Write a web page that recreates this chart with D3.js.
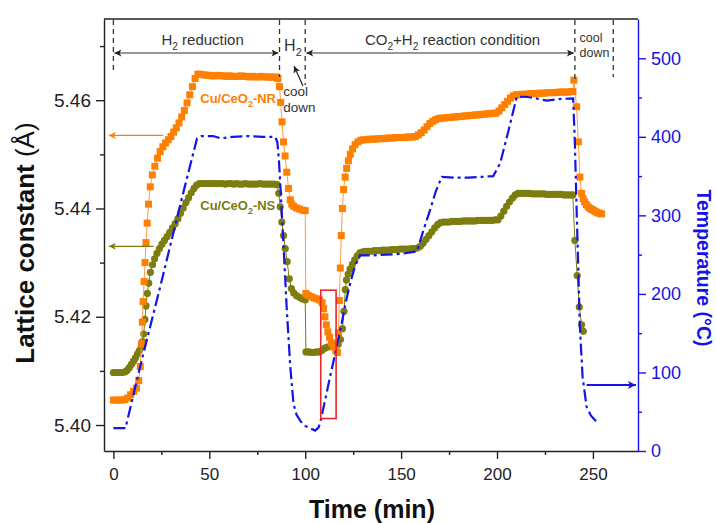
<!DOCTYPE html>
<html><head><meta charset="utf-8">
<script src="https://cdn.jsdelivr.net/npm/d3@7"></script>
<style>body{margin:0;background:#fff}svg{display:block}</style>
</head><body>
<svg id="chart" width="716" height="523"></svg>
<script>
// ---------- data ----------
const timeTicks = [0, 50, 100, 150, 200, 250];
const timeMinorTicks = [25, 75, 125, 175, 225];
const latticeTicks = [5.40, 5.42, 5.44, 5.46];
const latticeMinorTicks = [5.41, 5.43, 5.45, 5.47];
const tempTicks = [0, 100, 200, 300, 400, 500];
const tempMinorTicks = [50, 150, 250, 350, 450];

// Cu/CeO2-NR : [time (min), lattice constant (Å)]
const nrData = [
[0,5.4046],[1.5,5.4046],[3,5.4046],[4.5,5.4046],[6,5.4047],[7.5,5.4050],[9,5.4056],[10.5,5.4062],[12,5.4068],[13.2,5.4082],
[14,5.4108],[14.6,5.4150],[15.1,5.4190],[15.5,5.4228],[16,5.4265],[16.5,5.4300],[17,5.4337],[17.6,5.4373],[18.3,5.4408],[19.2,5.4440],
[20.3,5.4462],[21.6,5.4478],[23,5.4493],[24.4,5.4505],[25.8,5.4514],[27.2,5.4521],[28.6,5.4527],[30,5.4533],[31.4,5.4541],[32.8,5.4549],
[34.2,5.4558],[35.6,5.4569],[37,5.4581],[38.4,5.4595],[39.8,5.4610],[41.2,5.4625],[42.6,5.4640],[44,5.4648],[45.5,5.4648],[47,5.4647],
[48.5,5.4646],[50,5.4646],[51.5,5.4645],[53,5.4645],[54.5,5.4646],[56,5.4645],[57.5,5.4645],[59,5.4644],[60.5,5.4645],[62,5.4644],
[63.5,5.4644],[65,5.4644],[66.5,5.4645],[68,5.4644],[69.5,5.4644],[71,5.4643],[72.5,5.4644],[74,5.4643],[75.5,5.4643],[77,5.4644],
[78.5,5.4643],[80,5.4643],[81.5,5.4643],[83,5.4642],[84.5,5.4643],[85.8,5.4640],
[86.6,5.4625],[87.2,5.4596],[87.9,5.4560],[88.7,5.4523],[89.5,5.4497],[90.4,5.4467],[91.3,5.4437],[92.2,5.4416],[93,5.4408],[94,5.4404],
[95.5,5.4401],[97,5.4399],[98.5,5.4397],[100,5.4396],
[100.3,5.4243],[101.5,5.4240],[103,5.4237],[104.5,5.4235],[106,5.4233],[107.5,5.4231],[108.8,5.4226],[109.6,5.4215],[110.3,5.4200],[111,5.4185],
[111.8,5.4172],[112.7,5.4162],[113.7,5.4152],[114.8,5.4144],[116,5.4137],[116.8,5.4134],
[117.3,5.4170],[117.8,5.4230],[118.3,5.4290],[118.8,5.4350],[119.4,5.4400],[120,5.4435],[120.8,5.4458],[121.6,5.4474],[122.5,5.4488],[123.5,5.4500],
[124.7,5.4510],[126,5.4518],[127.5,5.4523],[129,5.4526],[130.5,5.4527],[132,5.4527],[133.5,5.4528],[135,5.4528],[136.5,5.4528],[138,5.4529],
[139.5,5.4529],[141,5.4529],[142.5,5.4530],[144,5.4530],[145.5,5.4530],[147,5.4531],[148.5,5.4531],[150,5.4531],[151.5,5.4531],[153,5.4532],
[154.5,5.4532],[156,5.4532],[157.5,5.4533],[159,5.4536],[160.5,5.4540],[162,5.4545],[163.5,5.4551],[165,5.4557],[166.5,5.4561],[168,5.4564],
[169.5,5.4566],[171,5.4567],[172.5,5.4567],[174,5.4568],[175.5,5.4568],[177,5.4569],[178.5,5.4569],[180,5.4570],[181.5,5.4570],[183,5.4571],
[184.5,5.4571],[186,5.4572],[187.5,5.4572],[189,5.4573],[190.5,5.4573],[192,5.4574],[193.5,5.4574],[195,5.4575],[196.5,5.4575],[198,5.4576],
[199.5,5.4576],[201,5.4580],[202.5,5.4586],[204,5.4592],[205.5,5.4598],[207,5.4604],[208.5,5.4608],[210,5.4610],[211.5,5.4610],[213,5.4611],
[214.5,5.4611],[216,5.4611],[217.5,5.4612],[219,5.4612],[220.5,5.4612],[222,5.4613],[223.5,5.4613],[225,5.4613],[226.5,5.4614],[228,5.4614],
[229.5,5.4614],[231,5.4614],[232.5,5.4615],[234,5.4615],[235.5,5.4615],[237,5.4615],[238.5,5.4616],[239.6,5.4616],
[240.1,5.4637],[241.5,5.4588],[242.4,5.4523],[243.2,5.4458],[244.1,5.4428],[244.9,5.4418],[245.7,5.4412],[246.6,5.4407],[247.5,5.4403],[248.5,5.4400],
[249.5,5.4398],[250.5,5.4396],[251.5,5.4394],[252.5,5.4392],[253.5,5.4391],[254.5,5.4390]
];

// Cu/CeO2-NS : [time (min), lattice constant (Å)]
const nsData = [
[0,5.4097],[1.5,5.4097],[3,5.4097],[4.5,5.4097],[6,5.4098],[7.2,5.4101],[8.3,5.4106],[9.4,5.4112],[10.5,5.4118],[11.5,5.4124],
[12.5,5.4131],[13.5,5.4137],[14.5,5.4144],[15.2,5.4154],[15.8,5.4168],[16.4,5.4195],[17,5.4220],[17.7,5.4243],[18.4,5.4262],[19.3,5.4282],
[20.4,5.4296],[21.5,5.4307],[22.7,5.4317],[24,5.4326],[25.3,5.4334],[26.6,5.4341],[28,5.4348],[29.4,5.4356],[30.8,5.4364],[32.2,5.4372],
[33.6,5.4381],[35,5.4391],[36.4,5.4401],[37.8,5.4411],[39.2,5.4420],[40.6,5.4429],[42,5.4437],[43.4,5.4443],[44.8,5.4446],[46.3,5.4446],
[47.8,5.4446],[49.3,5.4446],[50.8,5.4446],[52.3,5.4446],[53.8,5.4446],[55.3,5.4446],[56.8,5.4446],[58.3,5.4445],[59.8,5.4446],[61.3,5.4446],
[62.8,5.4445],[64.3,5.4446],[65.8,5.4445],[67.3,5.4445],[68.8,5.4446],[70.3,5.4445],[71.8,5.4445],[73.3,5.4445],[74.8,5.4445],[76.3,5.4446],
[77.8,5.4445],[79.3,5.4445],[80.8,5.4445],[82.3,5.4445],[83.8,5.4445],[85.3,5.4444],
[86.2,5.4428],[87,5.4403],[87.8,5.4375],[88.7,5.4350],[89.6,5.4326],[90.6,5.4302],[91.7,5.4270],[92.8,5.4252],[94,5.4244],[95.5,5.4239],
[97,5.4236],[98.5,5.4233],[100,5.4231],
[100.4,5.4135],[101.8,5.4135],[103.2,5.4134],[104.6,5.4134],[106,5.4135],[107.4,5.4135],[108.8,5.4138],[110.2,5.4142],[111.6,5.4144],[113,5.4145],
[114.4,5.4146],[115.8,5.4147],[117.2,5.4149],[118.4,5.4158],[119.4,5.4178],[120.2,5.4210],[120.9,5.4250],[121.5,5.4268],[122.4,5.4279],[123.4,5.4288],
[124.6,5.4297],[125.8,5.4305],[127.1,5.4312],[128.5,5.4318],[130,5.4320],[131.5,5.4321],[133,5.4321],[134.5,5.4321],[136,5.4322],[137.5,5.4322],
[139,5.4322],[140.5,5.4323],[142,5.4323],[143.5,5.4323],[145,5.4324],[146.5,5.4324],[148,5.4324],[149.5,5.4325],[151,5.4325],[152.5,5.4325],
[154,5.4325],[155.5,5.4326],[157,5.4326],[158.5,5.4327],[160,5.4330],[161.5,5.4336],[163,5.4343],[164.5,5.4350],[166,5.4357],[167.5,5.4364],
[169,5.4370],[170.5,5.4374],[172,5.4375],[173.5,5.4375],[175,5.4375],[176.5,5.4376],[178,5.4376],[179.5,5.4376],[181,5.4376],[182.5,5.4377],
[184,5.4377],[185.5,5.4377],[187,5.4377],[188.5,5.4377],[190,5.4378],[191.5,5.4378],[193,5.4378],[194.5,5.4378],[196,5.4378],[197.5,5.4378],
[199,5.4379],[200.5,5.4379],[202,5.4386],[203.5,5.4395],[205,5.4404],[206.5,5.4412],[208,5.4419],[209.5,5.4425],[211,5.4428],[212.5,5.4428],
[214,5.4428],[215.5,5.4428],[217,5.4428],[218.5,5.4427],[220,5.4427],[221.5,5.4427],[223,5.4427],[224.5,5.4427],[226,5.4426],[227.5,5.4426],
[229,5.4426],[230.5,5.4426],[232,5.4426],[233.5,5.4426],[235,5.4425],[236.5,5.4425],[238,5.4425],[239.5,5.4425],
[240.6,5.4341],[241.8,5.4276],[242.9,5.4218],[244.1,5.4185],[245,5.4173]
];

// Temperature : [time (min), °C]
const tempData = [
[0,29],[6.3,29],[14,108],[24.5,210],[34.9,314],[43.6,398],[46,401],[52,401],[56,398],[62,400],
[70,401],[78,400],[84.4,400],[85.5,393],[86.3,370],[87,340],[88.7,262],[90.4,180],[92.2,108],[93.9,60],
[95.5,46],[97.5,38],[100,32],[102.5,29],[105.2,26],[107,30],[108,38],[110.5,66],[113,95],[116,128],
[119,162],[121.2,190],[123.4,213],[126,236],[128.6,249],[135,249],[142,250],[150,251],[158.2,254],[161.5,280],
[165,306],[168,330],[171.2,349],[178,348],[185,348],[192,349],[198,350],[201.6,366],[206,408],[210.3,451],
[215,451],[220,449],[226,446],[232,448],[239.7,449],[240.6,391],[241.5,307],[242.4,230],[243.2,158],[244.6,95],
[246.7,56],[249,45],[251.9,37]
];

// highlighted region (red box): time range and lattice range
const boxTime = [108.1, 116.1];
const boxLattice = [5.4012, 5.4249];

// experiment phase boundaries (min)
const phaseBounds = [0, 86.6, 100, 240.6, 260.6];

// ---------- drawing ----------
const M = {left:104, right:638, top:19, bottom:451};
const FONT = '"Liberation Sans", Arial, Helvetica, sans-serif';
const C_NR = '#ff8000', C_NR_LINE = '#ff9c45', C_NS = '#7b7d0e', C_T = '#1414e6', C_AX = '#222';

const svg = d3.select('#chart').style('font-family', FONT);
const x = d3.scaleLinear().domain([-4.9, 273.5]).range([M.left, M.right]);
const yL = d3.scaleLinear().domain([5.3952, 5.475]).range([M.bottom, M.top]);
const yT = d3.scaleLinear().domain([0, 550]).range([M.bottom, M.top]);

const defs = svg.append('defs');
function marker(id, color, len, wid) {
  defs.append('marker').attr('id', id)
    .attr('viewBox', '0 0 10 10').attr('refX', 10).attr('refY', 5)
    .attr('markerWidth', len).attr('markerHeight', wid)
    .attr('markerUnits', 'userSpaceOnUse').attr('orient', 'auto-start-reverse')
    .append('path').attr('d', 'M0,0L10,5L0,10L2.5,5Z').attr('fill', color);
}
marker('ahBlack', '#222', 10, 7);
marker('ahOrange', C_NR, 9, 7);
marker('ahOlive', C_NS, 9, 7);
marker('ahBlue', C_T, 11, 8);

// axes
function styleAxis(g, color, size) {
  g.selectAll('path,line').attr('stroke', color).attr('stroke-width', 1.4);
  g.selectAll('text').attr('fill', color).style('font-size', size + 'px').style('font-family', FONT);
}
const gx = svg.append('g').attr('transform', `translate(0,${M.bottom})`)
  .call(d3.axisBottom(x).tickValues(timeTicks).tickSize(8).tickSizeOuter(0).tickPadding(9));
styleAxis(gx, C_AX, 17);
const gxm = svg.append('g').attr('transform', `translate(0,${M.bottom})`)
  .call(d3.axisBottom(x).tickValues(timeMinorTicks).tickSize(4).tickFormat(''));
gxm.select('.domain').remove(); styleAxis(gxm, C_AX, 17);

const gl = svg.append('g').attr('transform', `translate(${M.left},0)`)
  .call(d3.axisLeft(yL).tickValues(latticeTicks).tickFormat(d3.format('.2f')).tickSize(8).tickSizeOuter(0).tickPadding(5));
styleAxis(gl, C_AX, 19);
const glm = svg.append('g').attr('transform', `translate(${M.left},0)`)
  .call(d3.axisLeft(yL).tickValues(latticeMinorTicks).tickSize(4).tickFormat(''));
glm.select('.domain').remove(); styleAxis(glm, C_AX, 19);

const gr = svg.append('g').attr('transform', `translate(${M.right},0)`)
  .call(d3.axisRight(yT).tickValues(tempTicks).tickSize(8).tickSizeOuter(0).tickPadding(5));
styleAxis(gr, C_T, 18);
const grm = svg.append('g').attr('transform', `translate(${M.right},0)`)
  .call(d3.axisRight(yT).tickValues(tempMinorTicks).tickSize(4).tickFormat(''));
grm.select('.domain').remove(); styleAxis(grm, C_T, 18);

svg.append('line').attr('x1', M.left).attr('x2', M.right).attr('y1', M.top).attr('y2', M.top)
  .attr('stroke', C_AX).attr('stroke-width', 1.4);

// axis titles
svg.append('text').attr('transform', `translate(34,243) rotate(-90)`).attr('text-anchor', 'middle')
  .style('font-size', '26px').style('font-weight', 'bold').attr('fill', '#111')
  .call(t => { t.append('tspan').text('Lattice constant '); t.append('tspan').style('font-weight', 'normal').text('(Å)'); });
svg.append('text').attr('transform', `translate(697,268) rotate(90)`).attr('text-anchor', 'middle')
  .style('font-size', '19.5px').style('font-weight', 'bold').attr('fill', C_T).text('Temperature (°C)');
svg.append('text').attr('x', 372).attr('y', 518).attr('text-anchor', 'middle')
  .style('font-size', '25px').style('font-weight', 'bold').attr('fill', '#111').text('Time (min)');

// series
const lineL = d3.line().x(d => x(d[0])).y(d => yL(d[1]));
const lineT = d3.line().x(d => x(d[0])).y(d => yT(d[1]));

svg.append('path').datum(nsData).attr('d', lineL).attr('fill', 'none').attr('stroke', C_NS).attr('stroke-width', 1);
svg.append('g').selectAll('circle').data(nsData).join('circle')
  .attr('cx', d => x(d[0])).attr('cy', d => yL(d[1])).attr('r', 3.6).attr('fill', C_NS);

svg.append('path').datum(nrData).attr('d', lineL).attr('fill', 'none').attr('stroke', C_NR_LINE).attr('stroke-width', 1);
svg.append('g').selectAll('rect').data(nrData).join('rect')
  .attr('x', d => x(d[0]) - 3.5).attr('y', d => yL(d[1]) - 3.5).attr('width', 7).attr('height', 7).attr('fill', C_NR);

svg.append('path').datum(tempData).attr('d', lineT).attr('fill', 'none').attr('stroke', C_T)
  .attr('stroke-width', 2.2).attr('stroke-dasharray', '12,4,3,4');

// red highlight box
svg.append('rect').attr('x', x(boxTime[0])).attr('y', yL(boxLattice[1]))
  .attr('width', x(boxTime[1]) - x(boxTime[0])).attr('height', yL(boxLattice[0]) - yL(boxLattice[1]))
  .attr('fill', 'none').attr('stroke', '#e8262b').attr('stroke-width', 1.6);

// series labels and axis-pointing arrows
function subLabel(xp, yp, parts, size, color, weight, anchor) {
  const t = svg.append('text').attr('x', xp).attr('y', yp).attr('fill', color)
    .style('font-size', size + 'px').style('font-weight', weight || 'normal').attr('text-anchor', anchor || 'start');
  let shifted = false;
  parts.forEach(p => {
    const sp = t.append('tspan').text(p[0]);
    if (p[1]) { sp.style('font-size', (size * 0.68) + 'px').attr('dy', size * 0.3); shifted = true; }
    else if (shifted) { sp.attr('dy', -size * 0.3); shifted = false; }
  });
  return t;
}
subLabel(x(45.3), 103, [['Cu/CeO'], ['2', 1], ['-NR']], 13, C_NR, 'bold');
subLabel(x(45.3), 210, [['Cu/CeO'], ['2', 1], ['-NS']], 13, C_NS, 'bold');

svg.append('line').attr('x1', x(26)).attr('x2', x(-2.4)).attr('y1', yL(5.4535)).attr('y2', yL(5.4535))
  .attr('stroke', C_NR).attr('stroke-width', 1.4).attr('marker-end', 'url(#ahOrange)');
svg.append('line').attr('x1', x(21)).attr('x2', x(-2.4)).attr('y1', yL(5.4330)).attr('y2', yL(5.4330))
  .attr('stroke', C_NS).attr('stroke-width', 1.4).attr('marker-end', 'url(#ahOlive)');
svg.append('line').attr('x1', x(246.7)).attr('x2', x(272.4)).attr('y1', yT(84)).attr('y2', yT(84))
  .attr('stroke', C_T).attr('stroke-width', 1.8).attr('marker-end', 'url(#ahBlue)');

// phase annotations
const dashEnds = [72, 77, 85, 79, 77];
phaseBounds.forEach((t, i) => {
  svg.append('line').attr('x1', x(t)).attr('x2', x(t)).attr('y1', M.top + 1).attr('y2', dashEnds[i])
    .attr('stroke', '#333').attr('stroke-width', 1.3).attr('stroke-dasharray', '5,4');
});
svg.append('line').attr('x1', x(phaseBounds[0]) + 1).attr('x2', x(phaseBounds[1]) - 1).attr('y1', 53).attr('y2', 53)
  .attr('stroke', '#333').attr('stroke-width', 1.1)
  .attr('marker-start', 'url(#ahBlack)').attr('marker-end', 'url(#ahBlack)');
svg.append('line').attr('x1', x(phaseBounds[2]) + 1).attr('x2', x(phaseBounds[3]) - 1).attr('y1', 53).attr('y2', 53)
  .attr('stroke', '#333').attr('stroke-width', 1.1)
  .attr('marker-start', 'url(#ahBlack)').attr('marker-end', 'url(#ahBlack)');
svg.append('line').attr('x1', 303).attr('y1', 86).attr('x2', 294).attr('y2', 66)
  .attr('stroke', '#222').attr('stroke-width', 1.2).attr('marker-end', 'url(#ahBlack)');

subLabel(x(46.5), 45, [['H'], ['2', 1], [' reduction']], 15, '#333', 'normal', 'middle');
subLabel(x(89), 51, [['H'], ['2', 1]], 16, '#333');
subLabel(x(88.6), 96, [['cool']], 13.5, '#333');
subLabel(x(88.6), 112, [['down']], 13.5, '#333');
subLabel(x(176.8), 45, [['CO'], ['2', 1], ['+H'], ['2', 1], ['  reaction condition']], 15, '#333', 'normal', 'middle');
subLabel(x(243), 42, [['cool']], 12.5, '#333');
subLabel(x(243), 57, [['down']], 12.5, '#333');
</script>
</body></html>
